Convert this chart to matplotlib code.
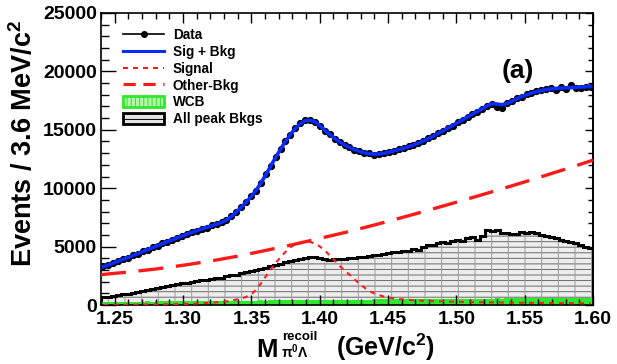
import matplotlib
matplotlib.use("Agg")
import matplotlib.pyplot as plt
import numpy as np
from matplotlib.lines import Line2D
from matplotlib.patches import Patch
from matplotlib.ticker import MultipleLocator

plt.rcParams['font.family'] = ['Liberation Sans', 'DejaVu Sans']
plt.rcParams['font.weight'] = 'bold'
plt.rcParams['mathtext.fontset'] = 'custom'
plt.rcParams['mathtext.bf'] = 'Liberation Sans:bold'
plt.rcParams['mathtext.rm'] = 'Liberation Sans:bold'
plt.rcParams['mathtext.it'] = 'Liberation Sans:bold'
plt.rcParams['mathtext.default'] = 'bf'
plt.rcParams['hatch.linewidth'] = 0.7

# 100 bins of 3.6 MeV from 1.24 to 1.60 GeV
edges = np.round(np.linspace(1.24, 1.60, 101), 4)
centers = 0.5 * (edges[:-1] + edges[1:])

data = [3310, 3400, 3620, 3730, 3920, 4060, 4270, 4380, 4600, 4720,
        4930, 5060, 5280, 5400, 5600, 5740, 5930, 6050, 6250, 6360,
        6520, 6630, 6820, 6900, 7090, 7260, 7600, 7930, 8390, 8780,
        9300, 9780, 10480, 11180, 11870, 12690, 13330, 14020, 14580, 15180,
        15560, 15800, 15870, 15680, 15330, 14930, 14620, 14220, 13980, 13680,
        13510, 13270, 13180, 13000, 12980, 12880, 12970, 12980, 13120, 13180,
        13330, 13400, 13580, 13680, 13880, 14020, 14280, 14430, 14720, 14880,
        15180, 15330, 15630, 15830, 16130, 16320, 16520, 16780, 17080, 17180,
        16980, 16900, 17280, 17430, 17680, 17830, 18030, 18130, 18280, 18380,
        18470, 18540, 18450, 18700, 18500, 18830, 18560, 18610, 18640, 18700]

fit = [3280, 3430, 3590, 3750, 3910, 4070, 4240, 4400, 4570, 4740,
       4910, 5080, 5250, 5420, 5580, 5750, 5910, 6070, 6220, 6370,
       6510, 6650, 6790, 6920, 7070, 7280, 7570, 7950, 8370, 8800,
       9270, 9800, 10450, 11150, 11900, 12650, 13350, 14000, 14600, 15120,
       15530, 15780, 15830, 15680, 15360, 14970, 14600, 14260, 13960, 13710,
       13490, 13310, 13160, 13040, 12960, 12920, 12930, 12990, 13080, 13190,
       13300, 13420, 13550, 13700, 13860, 14040, 14240, 14450, 14680, 14910,
       15150, 15380, 15620, 15860, 16100, 16340, 16570, 16810, 17050, 17250,
       17200, 17150, 17250, 17450, 17650, 17850, 18000, 18150, 18270, 18370,
       18440, 18500, 18540, 18570, 18600, 18620, 18640, 18660, 18680, 18700]

signal = [20, 20, 25, 25, 30, 30, 35, 40, 40, 45,
          50, 55, 60, 65, 70, 80, 90, 100, 110, 130,
          150, 170, 200, 230, 270, 310, 380, 460, 560, 690,
          900, 1300, 1850, 2450, 3050, 3600, 4100, 4550, 4950, 5200,
          5350, 5450, 5400, 5250, 5000, 4650, 4250, 3800, 3350, 2950,
          2600, 2200, 1850, 1500, 1200, 1000, 850, 720, 630, 560,
          510, 470, 440, 410, 390, 370, 350, 335, 320, 305,
          295, 285, 275, 265, 258, 250, 243, 236, 230, 224,
          218, 212, 207, 202, 197, 192, 188, 184, 180, 176,
          172, 168, 165, 162, 159, 156, 153, 150, 148, 145]

other_x = [1.24, 1.26, 1.28, 1.30, 1.32, 1.34, 1.36, 1.38, 1.40, 1.42,
           1.44, 1.46, 1.48, 1.50, 1.52, 1.54, 1.56, 1.58, 1.60]
other_bkg = [2600, 2820, 3080, 3400, 3760, 4180, 4660, 5160, 5700, 6250,
             6850, 7480, 8130, 8800, 9480, 10180, 10900, 11640, 12400]

peak_bkgs = [650, 720, 800, 860, 900, 980, 1050, 1100, 1200, 1280,
             1350, 1450, 1550, 1650, 1720, 1800, 1850, 1900, 1980, 2050,
             2100, 2150, 2200, 2280, 2350, 2450, 2550, 2600, 2700, 2800,
             2900, 3000, 3100, 3200, 3300, 3450, 3550, 3650, 3750, 3850,
             3950, 4000, 4100, 4080, 4000, 3900, 3850, 3900, 3950, 3900,
             4000, 4050, 4100, 4150, 4200, 4250, 4300, 4350, 4450, 4550,
             4500, 4650, 4600, 4800, 4750, 4950, 5100, 5100, 5300, 5400,
             5350, 5500, 5600, 5500, 5750, 5800, 5600, 5900, 6400, 6350,
             6450, 6200, 6150, 6100, 6050, 6250, 6200, 6250, 6150, 6000,
             5950, 5800, 5700, 5600, 5500, 5400, 5300, 5150, 5000, 4900]

wcb = [250, 260, 255, 270, 265, 280, 275, 290, 285, 300,
       295, 305, 310, 305, 320, 315, 325, 330, 325, 340,
       335, 345, 350, 345, 360, 355, 365, 370, 365, 380,
       375, 385, 390, 385, 400, 395, 405, 410, 405, 420,
       415, 425, 430, 425, 440, 435, 445, 450, 445, 455,
       460, 455, 465, 470, 465, 475, 480, 475, 485, 490,
       485, 495, 500, 495, 505, 510, 505, 515, 520, 515,
       525, 530, 525, 535, 540, 535, 545, 550, 545, 555,
       560, 555, 565, 570, 565, 570, 575, 570, 580, 585,
       580, 585, 590, 585, 595, 590, 595, 600, 595, 600]

data = np.array(data, dtype=float)

fig = plt.figure(figsize=(6.17, 3.64), dpi=100)
ax = fig.add_axes([101/617, 1-305/364, 492/617, 292/364])

# peaking backgrounds: hatched grey histogram with black outline
ax.stairs(peak_bkgs, edges, fill=True, facecolor='#ededed', edgecolor='#6a6a6a',
          hatch='---', linewidth=0, zorder=1)
ax.stairs(peak_bkgs, edges, fill=True, facecolor='none', edgecolor='#9a9a9a',
          hatch='|', linewidth=0, zorder=1.1)
ax.stairs(peak_bkgs, edges, color='black', linewidth=2.2, zorder=1.2)
ax.stairs(wcb, edges, fill=True, color='#2ee82e', zorder=1.4)

ax.errorbar(centers, data, yerr=np.sqrt(data), xerr=0.0018, fmt='o', ms=4.2,
            color='black', elinewidth=1, capsize=0, zorder=3)
ax.plot(centers, fit, color='#0a2bff', lw=2.6, zorder=4)
ax.plot(other_x, other_bkg, color='#ff1a1a', lw=2.4, dashes=(7.5, 3.8), zorder=3.5)
ax.plot(centers, signal, color='#ff1a1a', lw=1.5, dashes=(2.4, 2.4), zorder=3.5)

ax.set_xlim(1.24, 1.60)
ax.set_ylim(0, 25000)
ax.xaxis.set_major_locator(MultipleLocator(0.05))
ax.xaxis.set_minor_locator(MultipleLocator(0.01))
ax.yaxis.set_major_locator(MultipleLocator(5000))
ax.yaxis.set_minor_locator(MultipleLocator(1000))
ax.set_xticks([1.25, 1.30, 1.35, 1.40, 1.45, 1.50, 1.55, 1.60])
ax.set_xticklabels(['1.25', '1.30', '1.35', '1.40', '1.45', '1.50', '1.55', '1.60'])
ax.tick_params(axis='x', which='both', direction='in', top=True, bottom=True,
               labelsize=14, pad=4, width=1)
ax.tick_params(axis='x', which='major', length=7)
ax.tick_params(axis='x', which='minor', length=4)
ax.tick_params(axis='y', which='both', direction='in', left=True, right=False,
               labelsize=14, pad=3, width=1)
ax.tick_params(axis='y', which='major', length=11)
ax.tick_params(axis='y', which='minor', length=6)
for lab in ax.get_xticklabels() + ax.get_yticklabels():
    lab.set_fontweight('bold')

# shorter ticks on the right edge
ry = ax.secondary_yaxis('right')
ry.yaxis.set_major_locator(MultipleLocator(5000))
ry.yaxis.set_minor_locator(MultipleLocator(1000))
ry.tick_params(which='both', direction='in', labelright=False, width=1)
ry.tick_params(which='major', length=6)
ry.tick_params(which='minor', length=3.5)
for s in ax.spines.values():
    s.set_linewidth(1.2)
ry.spines['right'].set_linewidth(1.2)

handles = [
    Line2D([], [], color='black', lw=1.2, marker='o', ms=4),
    Line2D([], [], color='#0a2bff', lw=2.2),
    Line2D([], [], color='#ff1a1a', lw=1.5, dashes=(2.4, 2.4)),
    Line2D([], [], color='#ff1a1a', lw=2.2, dashes=(4, 2.5)),
    Patch(facecolor='#b6f7a8', edgecolor='#2ee82e', hatch='||||', lw=2),
    Patch(facecolor='#e4e4e4', edgecolor='black', hatch='---', lw=2),
]
labels = ['Data', 'Sig + Bkg', 'Signal', 'Other-Bkg', 'WCB', 'All peak Bkgs']
ax.legend(handles, labels, loc='upper left', bbox_to_anchor=(0.045, 0.947),
          frameon=False, prop={'weight': 'bold', 'size': 9.8},
          handlelength=3.0, handleheight=0.9, handletextpad=0.65,
          labelspacing=0.2, borderpad=0, borderaxespad=0)

ax.text(0.848, 0.80, '(a)', transform=ax.transAxes, fontsize=19,
        fontweight='bold', ha='center', va='center')

fig.text(24/617, 1-143/364, 'Events / 3.6 MeV/c$^{2}$', rotation=90,
         fontsize=19.5, fontweight='bold', ha='center', va='center')

# x title: M with recoil / pi0-Lambda scripts, then units
fig.text(256/617, 1-357/364, 'M', fontsize=18.5, fontweight='bold',
         ha='left', va='baseline')
fig.text(282/617, 1-340/364, 'recoil', fontsize=9.5, fontweight='bold',
         ha='left', va='baseline')
fig.text(281/617, 1-358/364, r'$\pi^{0}\Lambda$', fontsize=10, fontweight='bold',
         ha='left', va='baseline')
fig.text(336/617, 1-356/364, '(GeV/c$^{2}$)', fontsize=18, fontweight='bold',
         ha='left', va='baseline')

fig.savefig('out.png', dpi=100)
